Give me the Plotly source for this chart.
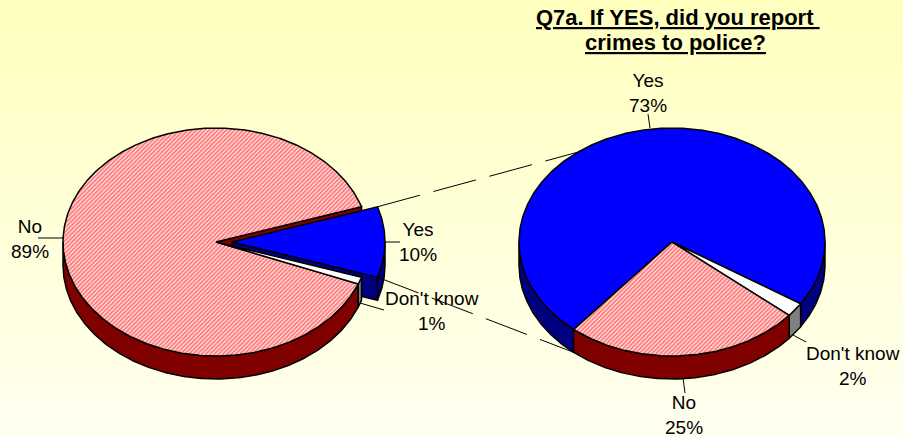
import numpy as np
import plotly.graph_objects as go

W, H = 903, 437

# ---- data ----
left_categories = ["Yes", "Don't know", "No"]
left_values = [10, 1, 89]
title_lines = ["Q7a. If YES, did you report ", "crimes to police?"]
right_categories = ["Yes", "Don't know", "No"]
right_values = [73, 2, 25]

# ---- geometry (layout only) ----
RX, RY, DEPTH = 153, 114, 23
LEFT_C = (216, 242)
YES_OFFSET = 16
RIGHT_C = (672, 242)
LEFT_START = -18.0
RIGHT_START = 130.0

HATCH = dict(shape="/", fgcolor="#FF0000", bgcolor="#FFFFFF", size=3, solidity=0.7)
BLUE, DBLUE, DRED, GREY = "#0000FF", "#000080", "#800000", "#808080"
OUTLINE = 1.5

fig = go.Figure()

# background gradient
fig.add_trace(go.Heatmap(x=[0, W], y=[0, H], z=[[0, 0], [1, 1]], zsmooth="best",
                         colorscale=[[0, "#FFFFBE"], [1, "#FFFFF0"]], showscale=False,
                         hoverinfo="skip"))


def spans(values, start):
    out, a = [], start
    for v in values:
        b = a + v * 3.6
        out.append((a, b))
        a = b
    return out


def arc(c, a0, a1, dz=0):
    t = np.radians(np.linspace(a0, a1, max(3, int(abs(a1 - a0) * 2))))
    return c[0] + RX * np.cos(t), c[1] + RY * np.sin(t) + dz


def poly(xs, ys, fill=None, pattern=None):
    kw = dict(fillpattern=pattern) if pattern else {}
    fig.add_trace(go.Scatter(x=list(xs) + [xs[0]], y=list(ys) + [ys[0]], mode="lines",
                             fill="toself", fillcolor=fill or "#FFFFFF",
                             line=dict(color="#000000", width=OUTLINE), hoverinfo="skip",
                             showlegend=False, **kw))


def top(c, a0, a1, fill=None, pattern=None):
    x, y = arc(c, a0, a1)
    poly(np.r_[c[0], x], np.r_[c[1], y], fill, pattern)


def wall(c, a0, a1, fill):
    # the visible part of the outer wall lies in the front half, 0..180 degrees
    for shift in (-360, 0, 360):
        lo, hi = max(a0 + shift, 0), min(a1 + shift, 180)
        if hi > lo:
            x, y = arc(c, lo, hi)
            x2, y2 = arc(c, hi, lo, DEPTH)
            poly(np.r_[x, x2], np.r_[y, y2], fill)


def cut(c, a, fill):
    x, y = c[0] + RX * np.cos(np.radians(a)), c[1] + RY * np.sin(np.radians(a))
    poly([c[0], x, x, c[0]], [c[1], y, y + DEPTH, c[1] + DEPTH], fill)


def point(c, a, dz=0):
    return c[0] + RX * np.cos(np.radians(a)), c[1] + RY * np.sin(np.radians(a)) + dz


# ---- left pie ----
(ly0, ly1), (ld0, ld1), (ln0, ln1) = spans(left_values, LEFT_START)
yes_c = (LEFT_C[0] + YES_OFFSET, LEFT_C[1])
cut(LEFT_C, ln1, DRED)
cut(yes_c, ly1, DBLUE)
wall(yes_c, ly0, ly1, DBLUE)
top(yes_c, ly0, ly1, BLUE)
wall(LEFT_C, ln0, ln1, DRED)
top(LEFT_C, ln0, ln1, "#FFFFFF", HATCH)
wall(LEFT_C, ld0, ld1, GREY)
top(LEFT_C, ld0, ld1, "#FFFFFF")

# ---- connector lines between the pies ----
(ry0, ry1), (rd0, rd1), (rn0, rn1) = spans(right_values, RIGHT_START)
p_top = point(yes_c, ly0)
q_top = point(RIGHT_C, 232)
p_bot = point(yes_c, ly1)
q_bot = point(RIGHT_C, ry0, DEPTH)
for p, q in ((p_top, q_top), (p_bot, q_bot)):
    fig.add_trace(go.Scatter(x=[p[0], q[0]], y=[p[1], q[1]], mode="lines", hoverinfo="skip",
                             line=dict(color="#000000", width=1, dash="44px,14px"),
                             showlegend=False))

# ---- right pie ----
wall(RIGHT_C, ry0, ry1, DBLUE)
wall(RIGHT_C, rd0, rd1, GREY)
wall(RIGHT_C, rn0, rn1, DRED)
top(RIGHT_C, ry0, ry1, BLUE)
top(RIGHT_C, rd0, rd1, "#FFFFFF")
top(RIGHT_C, rn0, rn1, "#FFFFFF", HATCH)

# ---- leader lines and labels ----
leaders = [((38, 238), (64, 238)), ((384, 242), (400, 242)), ((360, 303), (384, 310)),
           ((648, 114), (650, 128)), ((793, 335), (806, 342)), ((683, 378), (685, 393))]
shapes = [dict(type="line", xref="x", yref="y", x0=a[0], y0=a[1], x1=b[0], y1=b[1],
               line=dict(color="#000000", width=1), layer="above") for a, b in leaders]

FONT = dict(family="Liberation Sans, Arial, sans-serif", size=19, color="#000000")
TITLE_FONT = dict(family="Liberation Sans, Arial, sans-serif", size=22, color="#000000")


def label(x, y, cat, val):
    return dict(x=x, y=y, xref="x", yref="y", text=f"{cat}<br>{val}%", showarrow=False,
                font=FONT, align="center", xanchor="center", yanchor="middle")


annotations = [
    label(30, 239, left_categories[2], left_values[2]),
    label(418, 242, left_categories[0], left_values[0]),
    label(432, 311, left_categories[1], left_values[1]),
    label(648, 93, right_categories[0], right_values[0]),
    label(853, 365.5, right_categories[1], right_values[1]),
    label(684, 415, right_categories[2], right_values[2]),
]
for x, y, line in zip((678, 675), (17, 42), title_lines):
    text = line.replace(" ", "&#160;") if line.endswith(" ") else line
    annotations.append(dict(x=x, y=y, xref="x", yref="y", text=f"<b><u>{text}</u></b>",
                            showarrow=False, font=TITLE_FONT, xanchor="center", yanchor="middle"))

fig.update_layout(
    width=W, height=H, autosize=False,
    margin=dict(l=0, r=0, t=0, b=0),
    paper_bgcolor="#FFFFE0", plot_bgcolor="rgba(0,0,0,0)",
    showlegend=False, shapes=shapes, annotations=annotations,
    xaxis=dict(range=[0, W], visible=False, fixedrange=True),
    yaxis=dict(range=[H, 0], visible=False, fixedrange=True),
)
fig.write_html("out.html", config={"displayModeBar": False},
               post_script="document.body.style.margin='0';document.body.style.overflow='hidden';")
